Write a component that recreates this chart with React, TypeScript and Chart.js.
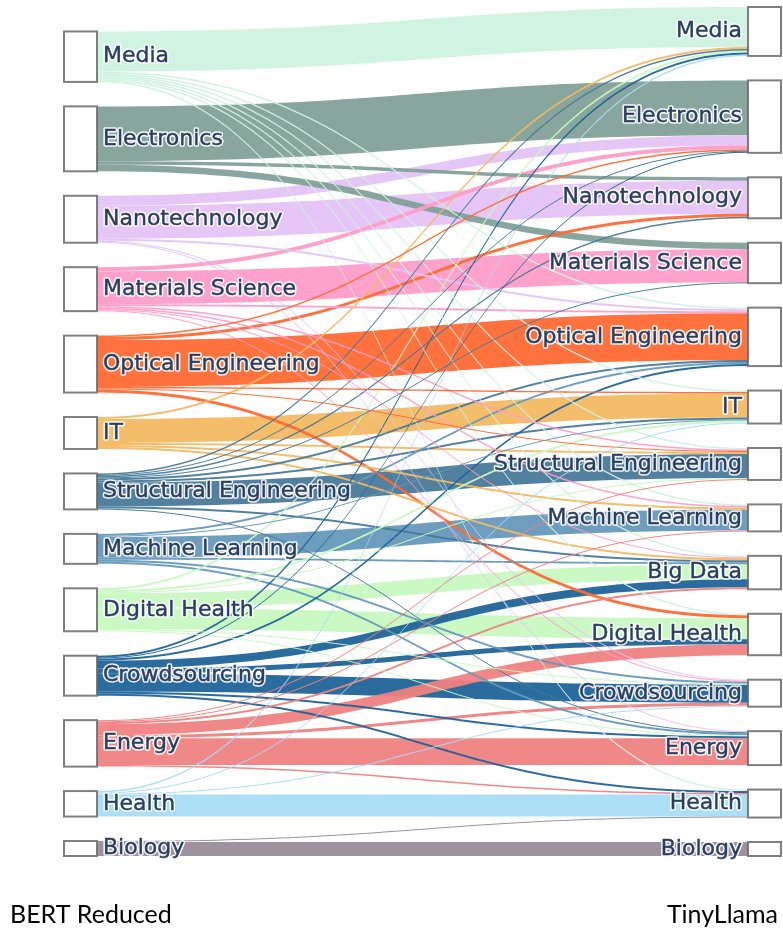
import React, { useEffect, useRef } from "react";
import { Chart, registerables } from "chart.js";

Chart.register(...registerables);

// ---- data ----
const leftNodes = [
  "Media", "Electronics", "Nanotechnology", "Materials Science", "Optical Engineering", "IT",
  "Structural Engineering", "Machine Learning", "Digital Health", "Crowdsourcing", "Energy", "Health", "Biology",
];
const rightNodes = [
  "Media", "Electronics", "Nanotechnology", "Materials Science", "Optical Engineering", "IT",
  "Structural Engineering", "Machine Learning", "Big Data", "Digital Health", "Crowdsourcing", "Energy", "Health", "Biology",
];
const columnTitles = ["BERT Reduced", "TinyLlama"];

const nodeColors: Record<string, string> = {
  "Media": "#cff2df",
  "Electronics": "#82a198",
  "Nanotechnology": "#e5c3f5",
  "Materials Science": "#ff9dc8",
  "Optical Engineering": "#ff6a33",
  "IT": "#f3b961",
  "Structural Engineering": "#487a9a",
  "Machine Learning": "#6699ba",
  "Big Data": "#c8f9c0",
  "Digital Health": "#c8f9c0",
  "Crowdsourcing": "#1f6499",
  "Energy": "#f08282",
  "Health": "#a8dcf6",
  "Biology": "#988c99",
};

// [source (BERT Reduced), target (TinyLlama), value]
const links: [string, string, number][] = [
  ["Media", "Media", 40], ["Media", "Optical Engineering", 1.5], ["Media", "IT", 1.5], ["Media", "Structural Engineering", 1.5],
  ["Media", "Machine Learning", 1.5], ["Media", "Big Data", 1.5], ["Media", "Digital Health", 1.5], ["Media", "Health", 1.5],
  ["Electronics", "Electronics", 55], ["Electronics", "Nanotechnology", 3.5], ["Electronics", "Materials Science", 6.5],
  ["Nanotechnology", "Electronics", 10], ["Nanotechnology", "Nanotechnology", 33], ["Nanotechnology", "Optical Engineering", 2],
  ["Nanotechnology", "Energy", 1], ["Nanotechnology", "Crowdsourcing", 1],
  ["Materials Science", "Electronics", 4], ["Materials Science", "Materials Science", 33], ["Materials Science", "Optical Engineering", 2],
  ["Materials Science", "Structural Engineering", 1.5], ["Materials Science", "Machine Learning", 1.5], ["Materials Science", "Big Data", 1],
  ["Materials Science", "Crowdsourcing", 1],
  ["Optical Engineering", "Electronics", 1.5], ["Optical Engineering", "Nanotechnology", 3], ["Optical Engineering", "Optical Engineering", 47],
  ["Optical Engineering", "IT", 1.5], ["Optical Engineering", "Structural Engineering", 1], ["Optical Engineering", "Digital Health", 3],
  ["IT", "Media", 2], ["IT", "IT", 24], ["IT", "Structural Engineering", 2], ["IT", "Machine Learning", 2], ["IT", "Big Data", 2],
  ["Structural Engineering", "Media", 1.5], ["Structural Engineering", "Electronics", 1], ["Structural Engineering", "Nanotechnology", 1.5],
  ["Structural Engineering", "Materials Science", 1], ["Structural Engineering", "Optical Engineering", 2], ["Structural Engineering", "IT", 2],
  ["Structural Engineering", "Structural Engineering", 24], ["Structural Engineering", "Big Data", 2], ["Structural Engineering", "Energy", 1],
  ["Machine Learning", "Optical Engineering", 2], ["Machine Learning", "IT", 1], ["Machine Learning", "Machine Learning", 21],
  ["Machine Learning", "Big Data", 2], ["Machine Learning", "Crowdsourcing", 2], ["Machine Learning", "Energy", 2],
  ["Digital Health", "Media", 2], ["Digital Health", "IT", 2], ["Digital Health", "Structural Engineering", 1],
  ["Digital Health", "Big Data", 15], ["Digital Health", "Digital Health", 21], ["Digital Health", "Crowdsourcing", 1],
  ["Digital Health", "Energy", 1],
  ["Crowdsourcing", "Media", 2], ["Crowdsourcing", "Electronics", 1], ["Crowdsourcing", "Optical Engineering", 2],
  ["Crowdsourcing", "Big Data", 8], ["Crowdsourcing", "Digital Health", 5], ["Crowdsourcing", "Crowdsourcing", 18],
  ["Crowdsourcing", "Energy", 2], ["Crowdsourcing", "Health", 2],
  ["Energy", "Structural Engineering", 1], ["Energy", "Machine Learning", 1], ["Energy", "Big Data", 2], ["Energy", "Digital Health", 11],
  ["Energy", "Crowdsourcing", 3], ["Energy", "Energy", 27], ["Energy", "Health", 1.5],
  ["Health", "Media", 1.5], ["Health", "IT", 1], ["Health", "Crowdsourcing", 1], ["Health", "Health", 22],
  ["Biology", "Health", 1], ["Biology", "Biology", 14],
];

// ---- layout constants ----
const NODE_PAD = 24.5; // in value units
const NODE_W = 33 / 717; // fraction of x range
const TOTAL = links.reduce((s, l) => s + l[2], 0);
const Y_MAX = TOTAL + (Math.max(leftNodes.length, rightNodes.length) - 1) * NODE_PAD;

type NodePos = { name: string; y0: number; y1: number; cursor: number };

function layoutColumn(names: string[], values: number[]): NodePos[] {
  const sum = values.reduce((a, b) => a + b, 0);
  let cur = Y_MAX - (sum + (names.length - 1) * NODE_PAD);
  return names.map((n, i) => {
    const p = { name: n, y0: cur, y1: cur + values[i], cursor: cur };
    cur += values[i] + NODE_PAD;
    return p;
  });
}

const sankeyPlugin = {
  id: "sankeyDraw",
  afterDatasetsDraw(chart: any) {
    const { ctx, scales, chartArea } = chart;
    const xs = scales.x;
    const ys = scales.y;
    const leftVals = leftNodes.map((n) => links.filter((l) => l[0] === n).reduce((s, l) => s + l[2], 0));
    const rightVals = rightNodes.map((n) => links.filter((l) => l[1] === n).reduce((s, l) => s + l[2], 0));
    const L = layoutColumn(leftNodes, leftVals);
    const R = layoutColumn(rightNodes, rightVals);

    const idx = links.map((l, i) => ({ l, i, s: leftNodes.indexOf(l[0]), t: rightNodes.indexOf(l[1]) }));
    const seg: { sy0: number; sy1: number; ty0: number; ty1: number; color: string; v: number; i: number }[] = [];
    const srcY: number[] = [];
    const tgtY: number[] = [];
    leftNodes.forEach((_, si) => {
      idx.filter((o) => o.s === si).sort((a, b) => a.t - b.t).forEach((o) => {
        srcY[o.i] = L[si].cursor;
        L[si].cursor += o.l[2];
      });
    });
    rightNodes.forEach((_, ti) => {
      idx.filter((o) => o.t === ti).sort((a, b) => a.s - b.s).forEach((o) => {
        tgtY[o.i] = R[ti].cursor;
        R[ti].cursor += o.l[2];
      });
    });
    idx.forEach((o) => {
      seg.push({
        sy0: srcY[o.i], sy1: srcY[o.i] + o.l[2], ty0: tgtY[o.i], ty1: tgtY[o.i] + o.l[2],
        color: nodeColors[o.l[0]], v: o.l[2], i: o.i,
      });
    });
    seg.sort((a, b) => b.v - a.v || a.i - b.i);

    const x0 = xs.getPixelForValue(NODE_W);
    const x1 = xs.getPixelForValue(1 - NODE_W);
    const xm = (x0 + x1) / 2;
    ctx.save();
    seg.forEach((s) => {
      const a = ys.getPixelForValue(s.sy0), b = ys.getPixelForValue(s.sy1);
      const c = ys.getPixelForValue(s.ty0), d = ys.getPixelForValue(s.ty1);
      ctx.beginPath();
      ctx.moveTo(x0, a);
      ctx.bezierCurveTo(xm, a, xm, c, x1, c);
      ctx.lineTo(x1, d);
      ctx.bezierCurveTo(xm, d, xm, b, x0, b);
      ctx.closePath();
      ctx.globalAlpha = 0.95;
      ctx.fillStyle = s.color;
      ctx.fill();
    });
    ctx.globalAlpha = 1;

    // nodes
    const drawNode = (xa: number, xb: number, p: NodePos) => {
      const ya = ys.getPixelForValue(p.y0), yb = ys.getPixelForValue(p.y1);
      ctx.fillStyle = "#ffffff";
      ctx.fillRect(xa, ya, xb - xa, yb - ya);
      ctx.strokeStyle = "rgba(105,105,105,0.85)";
      ctx.lineWidth = 2;
      ctx.strokeRect(xa, ya, xb - xa, yb - ya);
    };
    const lx0 = xs.getPixelForValue(0), rx1 = xs.getPixelForValue(1);
    L.forEach((p) => drawNode(lx0, x0, p));
    R.forEach((p) => drawNode(x1, rx1, p));

    // labels
    ctx.font = '22px "DejaVu Sans"';
    ctx.textBaseline = "middle";
    ctx.lineJoin = "round";
    const label = (text: string, x: number, y: number, align: CanvasTextAlign) => {
      ctx.textAlign = align;
      ctx.strokeStyle = "rgba(255,255,255,0.9)";
      ctx.lineWidth = 3.5;
      ctx.strokeText(text, x, y);
      ctx.fillStyle = "#2a3f5f";
      ctx.fillText(text, x, y);
      ctx.strokeStyle = "#2a3f5f";
      ctx.lineWidth = 0.4;
      ctx.strokeText(text, x, y);
    };
    L.forEach((p) => label(p.name, x0 + 6, ys.getPixelForValue((p.y0 + p.y1) / 2), "left"));
    R.forEach((p) => label(p.name, x1 - 6, ys.getPixelForValue((p.y0 + p.y1) / 2), "right"));

    // column titles
    ctx.font = '25px Lato';
    ctx.textBaseline = "alphabetic";
    ctx.fillStyle = "#000000";
    ctx.textAlign = "left";
    ctx.fillText(columnTitles[0], 10, chartArea.bottom + 67);
    ctx.textAlign = "right";
    ctx.fillText(columnTitles[1], chart.width - 5, chartArea.bottom + 67);
    ctx.restore();
  },
};

export default function App() {
  const ref = useRef<HTMLCanvasElement | null>(null);
  useEffect(() => {
    document.body.style.margin = "0";
    document.body.style.overflow = "hidden";
    document.documentElement.style.overflow = "hidden";
    if (!ref.current) return;
    const chart = new Chart(ref.current, {
      type: "scatter",
      data: { datasets: [{ data: [], pointRadius: 0 }] },
      options: {
        animation: false,
        responsive: false,
        devicePixelRatio: 1,
        layout: { padding: { left: 64, right: 2, top: 7, bottom: 72 } },
        plugins: { legend: { display: false }, tooltip: { enabled: false } },
        scales: {
          x: { type: "linear", min: 0, max: 1, display: false },
          y: { type: "linear", min: 0, max: Y_MAX, reverse: true, display: false },
        },
      },
      plugins: [sankeyPlugin],
    });
    return () => chart.destroy();
  }, []);
  return (
    <div style={{ width: 783, height: 928, background: "#fff" }}>
      <canvas ref={ref} width={783} height={928} style={{ display: "block", width: 783, height: 928 }} />
    </div>
  );
}
